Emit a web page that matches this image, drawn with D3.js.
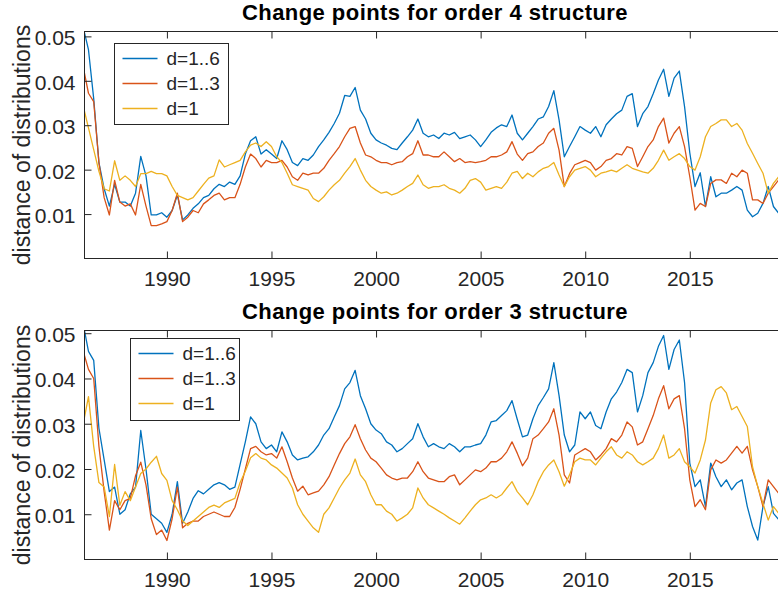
<!DOCTYPE html>
<html>
<head>
<meta charset="utf-8">
<script src="https://cdn.jsdelivr.net/npm/d3@7"></script>
<style>
  body { margin: 0; background: #fff; }
  svg { display: block; }
  text { font-family: "Liberation Sans", Arial, Helvetica, sans-serif; }
</style>
</head>
<body>
<svg id="chart" width="778" height="592"></svg>
<script>
// sampled every quarter from 1986.0
const START_YEAR = 1986;
const STEP = 0.25;

const seriesNames = ["d=1..6", "d=1..3", "d=1"];
const seriesColors = ["#0072BD", "#D95319", "#EDB120"];
const yTickValues = [0.01, 0.02, 0.03, 0.04, 0.05];
const xTickValues = [1990, 1995, 2000, 2005, 2010, 2015];

// order 4 structure
const order4D16 = [
  0.052, 0.047, 0.036, 0.0216,
  0.0157, 0.0118, 0.0167, 0.0127,
  0.0127, 0.0118, 0.0147, 0.023,
  0.0186, 0.0098, 0.0098, 0.0103,
  0.0093, 0.0108, 0.0143, 0.0087,
  0.0098, 0.0113, 0.0123, 0.0137,
  0.0142, 0.0157, 0.0167, 0.0162,
  0.0172, 0.0167, 0.0186, 0.0235,
  0.0265, 0.0274, 0.0235, 0.0245,
  0.0235, 0.0225, 0.0265, 0.0245,
  0.0216, 0.0209, 0.0225, 0.0221,
  0.0233, 0.0252, 0.0267, 0.0284,
  0.0304, 0.0327, 0.0367, 0.0365,
  0.0385, 0.0334, 0.0314, 0.0282,
  0.0267, 0.026, 0.0255, 0.0248,
  0.0245, 0.026, 0.0274, 0.0289,
  0.0314, 0.0282, 0.0274, 0.0278,
  0.027, 0.0282, 0.0278, 0.0284,
  0.027, 0.0274, 0.0278, 0.0267,
  0.0252, 0.0267, 0.0284, 0.0294,
  0.0301, 0.0297, 0.0323, 0.0282,
  0.0267, 0.0282, 0.0297, 0.0314,
  0.0319, 0.0342, 0.0378, 0.0312,
  0.0229, 0.0252, 0.0274, 0.0297,
  0.0289, 0.0282, 0.0297, 0.0274,
  0.0301, 0.0314, 0.0326, 0.0334,
  0.0365, 0.0371, 0.0297, 0.0326,
  0.0342, 0.0371, 0.0402, 0.0426,
  0.0365, 0.0406, 0.0422, 0.0342,
  0.0238, 0.0162, 0.0193, 0.0117,
  0.0184, 0.0139, 0.0147, 0.0147,
  0.0154, 0.0162, 0.0154, 0.0109,
  0.0094, 0.0102, 0.0124, 0.0162,
  0.0117, 0.0102
];
const order4D13 = [
  0.0431, 0.0372, 0.0353, 0.0216,
  0.0137, 0.0098, 0.0176, 0.0127,
  0.0118, 0.0123, 0.0098, 0.0167,
  0.0118, 0.0074, 0.0074, 0.0078,
  0.0083, 0.0108, 0.0147, 0.0083,
  0.0093, 0.0108, 0.0103, 0.0123,
  0.0132, 0.0142, 0.0147, 0.0132,
  0.0137, 0.0137, 0.0167, 0.0206,
  0.0235, 0.0225, 0.0206, 0.0221,
  0.0216, 0.0216, 0.0221, 0.0206,
  0.0184, 0.0176, 0.0192, 0.0188,
  0.0192, 0.0192, 0.0203, 0.0221,
  0.0236, 0.0252, 0.0274, 0.0293,
  0.0297, 0.026, 0.0233, 0.0229,
  0.0221, 0.0216, 0.0216, 0.0211,
  0.0216, 0.0218, 0.0229, 0.0236,
  0.0265, 0.0233, 0.0233, 0.0229,
  0.0229, 0.024, 0.0229, 0.0218,
  0.0225, 0.0216, 0.0218, 0.0216,
  0.0218, 0.0221, 0.0229, 0.0229,
  0.0233, 0.024, 0.0263, 0.0235,
  0.0221, 0.0236, 0.024, 0.0252,
  0.026, 0.0282, 0.0293, 0.0244,
  0.0162, 0.0191, 0.0211, 0.0216,
  0.0221, 0.0216, 0.0199, 0.0207,
  0.0221, 0.0225, 0.0236, 0.0233,
  0.0252, 0.0248, 0.0207, 0.0229,
  0.0252, 0.0267, 0.0297, 0.0316,
  0.026, 0.0282, 0.0297, 0.0252,
  0.0184, 0.0109, 0.0124, 0.0117,
  0.0169, 0.0177, 0.0177, 0.0169,
  0.0192, 0.0184, 0.0199, 0.0192,
  0.0132, 0.0132, 0.0124, 0.0147,
  0.0162, 0.0177
];
const order4D1 = [
  0.0343, 0.0294, 0.0245, 0.0196,
  0.0157, 0.0152, 0.022, 0.0176,
  0.0186, 0.0176, 0.0162, 0.0191,
  0.0191, 0.0196, 0.0191, 0.0191,
  0.0186, 0.0162, 0.0142, 0.0137,
  0.0132, 0.0137, 0.0152, 0.0167,
  0.0181, 0.0186, 0.0222, 0.0206,
  0.0211, 0.0216, 0.0221, 0.024,
  0.0255, 0.026, 0.0252, 0.0263,
  0.0252, 0.0229, 0.0216, 0.0192,
  0.0166, 0.0162, 0.0158, 0.0154,
  0.0135, 0.0128, 0.0139, 0.0154,
  0.0166, 0.0176, 0.0192, 0.0207,
  0.0225, 0.0199, 0.0176, 0.0162,
  0.0154, 0.0147, 0.015, 0.0143,
  0.0147, 0.0154, 0.0162, 0.0169,
  0.0188, 0.0166, 0.0158, 0.0162,
  0.0162, 0.0166, 0.0158, 0.0154,
  0.0147, 0.0158, 0.0176, 0.018,
  0.0172, 0.0154, 0.0158, 0.0162,
  0.0158, 0.0172, 0.0192, 0.0196,
  0.018, 0.0192, 0.0184, 0.0195,
  0.0203, 0.0207, 0.0216, 0.0188,
  0.0162, 0.0184, 0.0199, 0.0203,
  0.0207, 0.0199, 0.0184, 0.0192,
  0.0195, 0.0199, 0.0195, 0.0203,
  0.0211, 0.0203, 0.0199, 0.0195,
  0.0192, 0.0203, 0.0221, 0.0244,
  0.0221, 0.0229, 0.0236, 0.0225,
  0.0207, 0.0199, 0.0229, 0.0274,
  0.0297, 0.0304, 0.0312, 0.0312,
  0.0297, 0.0304, 0.0289, 0.0259,
  0.0237, 0.0214, 0.0192, 0.0147,
  0.0169, 0.0184
];

// order 3 structure
const order3D16 = [
  0.052, 0.046, 0.044, 0.029,
  0.022, 0.015, 0.016, 0.010,
  0.011, 0.0145, 0.016, 0.0285,
  0.020, 0.010, 0.009, 0.008,
  0.006, 0.010, 0.0172, 0.008,
  0.0105, 0.0135, 0.0152, 0.0145,
  0.0155, 0.0165, 0.017, 0.0165,
  0.0155, 0.016, 0.021, 0.026,
  0.0315, 0.030, 0.026, 0.0245,
  0.0253, 0.0238, 0.0282, 0.026,
  0.0231, 0.022, 0.0224, 0.0227,
  0.0238, 0.0253, 0.0275, 0.0289,
  0.0315, 0.034, 0.0377, 0.0391,
  0.0418, 0.0362, 0.0333, 0.030,
  0.0286, 0.0278, 0.026, 0.0253,
  0.0238, 0.0245, 0.0256, 0.0267,
  0.030, 0.0271, 0.0249, 0.0256,
  0.0249, 0.0245, 0.0256, 0.0249,
  0.0238, 0.0249, 0.0249, 0.0253,
  0.0256, 0.0275, 0.0304, 0.0307,
  0.0318, 0.0329, 0.0351, 0.031,
  0.0271, 0.0275, 0.0311, 0.034,
  0.0358, 0.0377, 0.0435, 0.0362,
  0.0275, 0.0238, 0.0253, 0.0326,
  0.0311, 0.0326, 0.0296, 0.0289,
  0.0326, 0.0355, 0.037, 0.0391,
  0.042, 0.0413, 0.0326, 0.0362,
  0.0413, 0.0435, 0.0471, 0.0495,
  0.042, 0.0464, 0.0485, 0.0391,
  0.0213, 0.0161, 0.0176, 0.0117,
  0.0213, 0.0183, 0.0161, 0.0176,
  0.0154, 0.0169, 0.0176, 0.0117,
  0.0073, 0.0043, 0.0117, 0.0161,
  0.0102, 0.0088
];
const order3D13 = [
  0.046, 0.042, 0.040, 0.025,
  0.015, 0.0065, 0.013, 0.011,
  0.013, 0.0135, 0.0185, 0.0215,
  0.0165, 0.009, 0.0055, 0.0065,
  0.0042, 0.009, 0.016, 0.007,
  0.008, 0.0085, 0.0085, 0.0095,
  0.010, 0.0105, 0.010, 0.0095,
  0.0095, 0.0115, 0.0155, 0.020,
  0.0245, 0.025, 0.0238, 0.0231,
  0.0234, 0.0224, 0.0249, 0.0216,
  0.018, 0.0151, 0.0162, 0.0143,
  0.0147, 0.0151, 0.0165, 0.0183,
  0.0209, 0.0234, 0.0256, 0.0271,
  0.0298, 0.0267, 0.0242, 0.0224,
  0.0216, 0.0202, 0.0187, 0.018,
  0.0176, 0.018, 0.018, 0.0194,
  0.0216, 0.0194, 0.018, 0.0176,
  0.0172, 0.0172, 0.0183, 0.0187,
  0.0165, 0.0176, 0.0187, 0.0198,
  0.0194, 0.0202, 0.0216, 0.0216,
  0.0224, 0.0238, 0.026, 0.0235,
  0.0207, 0.0224, 0.0267, 0.0275,
  0.0289, 0.0304, 0.0333, 0.0275,
  0.0187, 0.0169, 0.0231, 0.0238,
  0.0245, 0.0238, 0.022, 0.0231,
  0.0245, 0.0267, 0.026, 0.0275,
  0.0304, 0.0293, 0.0253, 0.026,
  0.0289, 0.0318, 0.0355, 0.0384,
  0.0333, 0.0355, 0.0362, 0.0289,
  0.0176, 0.0117, 0.0132, 0.011,
  0.0198, 0.022, 0.0213, 0.022,
  0.0235, 0.025, 0.0235, 0.025,
  0.0198, 0.0161, 0.0117, 0.0176,
  0.0161, 0.0146
];
const order3D1 = [
  0.030, 0.036, 0.025, 0.017,
  0.016, 0.0095, 0.021, 0.012,
  0.015, 0.013, 0.016, 0.019,
  0.020, 0.0215, 0.0228, 0.019,
  0.0175, 0.013, 0.011, 0.0085,
  0.0075, 0.0085, 0.0095, 0.0105,
  0.0115, 0.012, 0.0115, 0.0125,
  0.013, 0.0135, 0.017, 0.0195,
  0.0225, 0.0234, 0.0224, 0.022,
  0.0209, 0.0202, 0.0191, 0.018,
  0.0158, 0.0121, 0.010, 0.0085,
  0.007, 0.006, 0.010, 0.0114,
  0.0136, 0.0158, 0.0176, 0.0191,
  0.0222, 0.0187, 0.0172, 0.0143,
  0.0121, 0.0121, 0.0107, 0.010,
  0.0085, 0.0092, 0.010, 0.0114,
  0.0158, 0.0136, 0.0121, 0.0114,
  0.0107, 0.010, 0.0092, 0.0085,
  0.0078, 0.0092, 0.0107, 0.0121,
  0.0132, 0.0136, 0.0143, 0.0136,
  0.0143, 0.0158, 0.0172, 0.015,
  0.0136, 0.0121, 0.0143, 0.0172,
  0.0194, 0.0209, 0.022, 0.0194,
  0.0162, 0.0187, 0.0216, 0.0224,
  0.022, 0.022, 0.0209, 0.0224,
  0.0238, 0.0249, 0.0231, 0.0224,
  0.0238, 0.0231, 0.0216, 0.0209,
  0.0216, 0.0224, 0.0245, 0.0275,
  0.0224, 0.0231, 0.0245, 0.0216,
  0.0205, 0.0191, 0.022, 0.0264,
  0.0346, 0.0375, 0.0382, 0.0368,
  0.0331, 0.0338, 0.0316, 0.0294,
  0.0205, 0.0161, 0.0124, 0.0087,
  0.0117, 0.0102
];

const AX_LEFT = 84.5;
const AX_RIGHT = 786;
const X_LIM = [1986.06, 2019.6];
const AXIS_COLOR = "#262626";

const panels = [
  {
    title: "Change points for order 4 structure",
    series: [order4D16, order4D13, order4D1],
    top: 31.5, bottom: 258.5, yMax: 0.0511,
    legend: { x: 114.5, y: 43.5, w: 114, h: 81 },
  },
  {
    title: "Change points for order 3 structure",
    series: [order3D16, order3D13, order3D1],
    top: 330.5, bottom: 559.5, yMax: 0.0506,
    legend: { x: 130.5, y: 338.5, w: 109, h: 82 },
  },
];

const svg = d3.select("#chart");

const x = d3.scaleLinear().domain(X_LIM).range([AX_LEFT, AX_RIGHT]);

function drawPanel(panel, index) {
  const y = d3.scaleLinear().domain([0, panel.yMax]).range([panel.bottom, panel.top]);
  const g = svg.append("g").attr("class", "panel");
  const clipId = `clip-${index}`;

  g.append("clipPath")
    .attr("id", clipId)
    .append("rect")
    .attr("x", AX_LEFT)
    .attr("y", panel.top)
    .attr("width", AX_RIGHT - AX_LEFT)
    .attr("height", panel.bottom - panel.top);

  const line = d3.line()
    .x((d, i) => x(START_YEAR + i * STEP))
    .y((d) => y(d));

  g.append("g")
    .attr("clip-path", `url(#${clipId})`)
    .selectAll("path.series")
    .data(panel.series)
    .join("path")
    .attr("class", "series")
    .attr("d", line)
    .attr("fill", "none")
    .attr("stroke", (d, i) => seriesColors[i])
    .attr("stroke-width", 1.3)
    .attr("stroke-linejoin", "round");

  // axes
  const bottomAxis = g.append("g")
    .attr("transform", `translate(0,${panel.bottom})`)
    .call(d3.axisBottom(x).tickValues(xTickValues).tickSize(-7).tickPadding(13).tickFormat(d3.format("d")));

  const topAxis = g.append("g")
    .attr("transform", `translate(0,${panel.top})`)
    .call(d3.axisTop(x).tickValues(xTickValues).tickSize(-7).tickFormat(""));

  const leftAxis = g.append("g")
    .attr("transform", `translate(${AX_LEFT},0)`)
    .call(d3.axisLeft(y).tickValues(yTickValues).tickSize(-7).tickPadding(9).tickFormat(d3.format(".2f")));

  [bottomAxis, topAxis, leftAxis].forEach((axis) => {
    axis.select(".domain").remove();
    axis.selectAll(".tick line").attr("stroke", AXIS_COLOR);
    axis.selectAll(".tick text")
      .attr("fill", AXIS_COLOR)
      .attr("font-size", 21)
      .style("font-family", "'Liberation Sans', Arial, Helvetica, sans-serif");
  });
  leftAxis.selectAll(".tick text").attr("dy", "0.4em");

  g.append("rect")
    .attr("x", AX_LEFT)
    .attr("y", panel.top)
    .attr("width", AX_RIGHT - AX_LEFT)
    .attr("height", panel.bottom - panel.top)
    .attr("fill", "none")
    .attr("stroke", AXIS_COLOR)
    .attr("stroke-width", 1);

  g.append("text")
    .attr("x", 435)
    .attr("y", panel.top - 12)
    .attr("text-anchor", "middle")
    .attr("font-size", 22)
    .attr("letter-spacing", 0.45)
    .attr("font-weight", "bold")
    .attr("fill", "#000")
    .text(panel.title);

  g.append("text")
    .attr("transform", `translate(30,${(panel.top + panel.bottom) / 2}) rotate(-90)`)
    .attr("text-anchor", "middle")
    .attr("font-size", 23)
    .attr("fill", AXIS_COLOR)
    .text("distance of distributions");

  // legend
  const lg = panel.legend;
  const legend = g.append("g").attr("class", "legend");
  legend.append("rect")
    .attr("x", lg.x)
    .attr("y", lg.y)
    .attr("width", lg.w)
    .attr("height", lg.h)
    .attr("fill", "#fff")
    .attr("stroke", AXIS_COLOR)
    .attr("stroke-width", 1);

  const items = legend.selectAll("g.item")
    .data(seriesNames)
    .join("g")
    .attr("class", "item")
    .attr("transform", (d, i) => `translate(${lg.x},${lg.y + 15 + i * 25})`);

  items.append("line")
    .attr("x1", 8)
    .attr("x2", 43)
    .attr("stroke", (d, i) => seriesColors[i])
    .attr("stroke-width", 1.3);

  items.append("text")
    .attr("x", 52)
    .attr("dy", "0.36em")
    .attr("font-size", 19)
    .attr("fill", AXIS_COLOR)
    .text((d) => d);
}

panels.forEach(drawPanel);
</script>
</body>
</html>
